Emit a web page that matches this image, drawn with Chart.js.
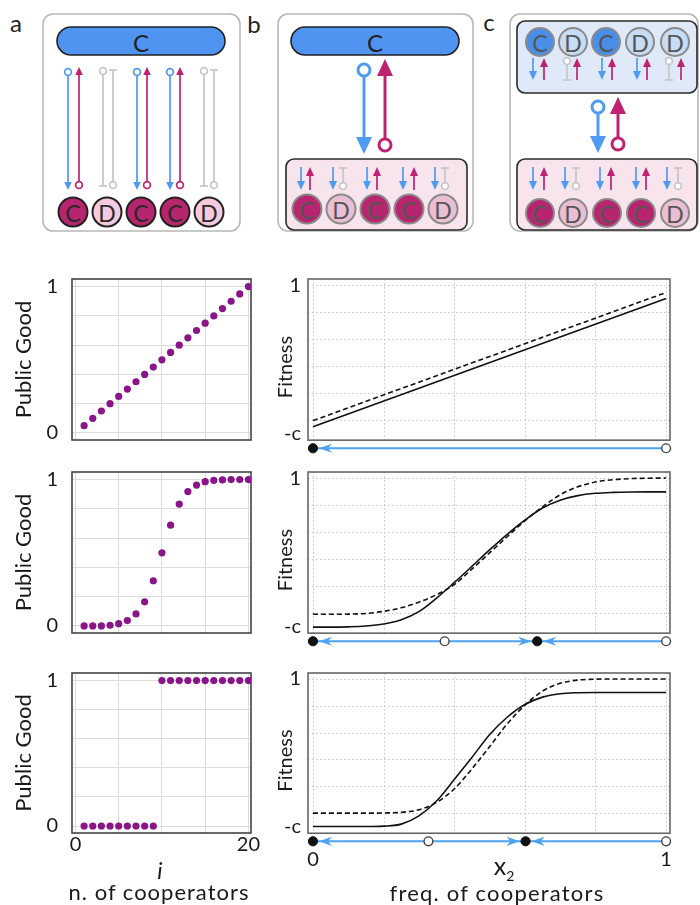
<!DOCTYPE html>
<html><head><meta charset="utf-8">
<script src="https://cdn.jsdelivr.net/npm/chart.js@4.4.1/dist/chart.umd.min.js"></script>
<style>
html,body{margin:0;padding:0;background:#fff}
#wrap{position:relative;width:700px;height:905px;overflow:hidden;font-family:Lato,'DejaVu Sans',sans-serif;color:#1a1a1a}
canvas{position:absolute}
.t{position:absolute;white-space:nowrap;transform:translate(-50%,-50%);line-height:1}
</style></head><body><div id="wrap">
<svg id="diag" width="700" height="250" style="position:absolute;left:0;top:0"></svg>
<canvas id="L1" width="262" height="221" style="left:0;top:249px"></canvas>
<canvas id="L2" width="262" height="221" style="left:0;top:442px"></canvas>
<canvas id="L3" width="262" height="220" style="left:0;top:643px"></canvas>
<canvas id="R1" width="438" height="236" style="left:262px;top:249px"></canvas>
<canvas id="R2" width="438" height="236" style="left:262px;top:442px"></canvas>
<canvas id="R3" width="438" height="235" style="left:262px;top:643px"></canvas>
<div class="t" style="left:160px;top:870px;font-style:italic;font-size:23px">i</div>
<div class="t" style="left:159px;top:892px;font-size:22px;letter-spacing:1px">n. of cooperators</div>
<div class="t" style="left:504px;top:868px;font-size:25px">x<sub style="font-size:14px">2</sub></div>
<div class="t" style="left:497px;top:893px;font-size:22px;letter-spacing:1.2px">freq. of cooperators</div>
</div>
<script>
// ---------------- data ----------------
const cooperators = [1,2,3,4,5,6,7,8,9,10,11,12,13,14,15,16,17,18,19,20];
const publicGoodLinear  = [0.05,0.10,0.15,0.20,0.25,0.30,0.35,0.40,0.45,0.50,0.55,0.60,0.65,0.70,0.75,0.80,0.85,0.90,0.95,1.00];
const publicGoodSigmoid = [0.00,0.00,0.00,0.005,0.016,0.037,0.082,0.165,0.309,0.50,0.689,0.833,0.918,0.963,0.986,0.995,0.998,1.00,1.00,1.00];
const publicGoodStep    = [0,0,0,0,0,0,0,0,0,1,1,1,1,1,1,1,1,1,1,1];
const leftXTicks = [0,5,10,15,20];
const leftYTicks = [0,0.2,0.4,0.6,0.8,1];

const freqLinear = [0, 1];
const fitnessCoopLinear = [-0.05, 0.90];
const fitnessDefLinear  = [-0.005, 0.945];
const freq = [0,0.05,0.10,0.15,0.20,0.25,0.30,0.35,0.40,0.45,0.50,0.55,0.60,0.65,0.70,0.75,0.80,0.85,0.90,0.95,1.00];
const fitnessCoopSigmoid = [-0.105,-0.105,-0.103,-0.097,-0.082,-0.050,0.010,0.110,0.225,0.345,0.467,0.583,0.688,0.778,0.836,0.870,0.887,0.894,0.897,0.898,0.898];
const fitnessDefSigmoid  = [-0.010,-0.010,-0.009,-0.004,0.012,0.038,0.080,0.135,0.210,0.325,0.445,0.565,0.683,0.786,0.876,0.935,0.971,0.988,0.996,0.999,1.000];
const fitnessCoopStep = [-0.100,-0.100,-0.100,-0.100,-0.097,-0.082,-0.020,0.090,0.250,0.415,0.585,0.715,0.810,0.865,0.890,0.898,0.900,0.900,0.900,0.900,0.900];
const fitnessDefStep  = [0,0,0,0,0.001,0.006,0.025,0.080,0.180,0.330,0.495,0.665,0.805,0.910,0.968,0.992,0.999,1,1,1,1];
const rightXTicks = [0,0.2,0.4,0.6,0.8,1];
const rightYTicks = [-0.1,0,0.2,0.4,0.6,0.8,1];

const flowEnds = [0, 1];
const stable1 = [0],        unstable1 = [1];
const stable2 = [0, 0.635], unstable2 = [0.373, 1];
const stable3 = [0, 0.602], unstable3 = [0.327, 1];
const tips1 = [0],               dirs1 = [-1];
const tips2 = [0, 0.635, 0.635], dirs2 = [-1, 1, -1];
const tips3 = [0, 0.602, 0.602], dirs3 = [-1, 1, -1];
const flowRowY = -0.21;
const fitnessBoxMin = -0.15;

// ---------------- diagram (SVG) ----------------
const NS = 'http://www.w3.org/2000/svg';
const svg = document.getElementById('diag');
function mk(tag, a, txt){ const e=document.createElementNS(NS,tag); for(const k in a) e.setAttribute(k,a[k]); if(txt!=null) e.textContent=txt; svg.appendChild(e); return e; }
const BLUE='#4f9af2', MAG='#bf2270', GREY='#c6c6c6';
const thin={r:3.4,hl:8,hw:3.8,bw:4}, big={r:6,hl:17,hw:8,bw:6};
function link(x,y1,y2,color,w,c1,c2,S){
  const ends=[[y1,c1,Math.sign(y1-y2)],[y2,c2,Math.sign(y2-y1)]];
  const le=ends.map(([y,c,o])=> c==='head'? y-o*S.hl*0.8 : c==='circle'? y-o*S.r : y);
  mk('line',{x1:x,y1:le[0],x2:x,y2:le[1],stroke:color,'stroke-width':w});
  ends.forEach(([y,c,o])=>{
    if(c==='head') mk('polygon',{points:`${x},${y} ${x-S.hw},${y-o*S.hl} ${x+S.hw},${y-o*S.hl}`,fill:color});
    else if(c==='circle') mk('circle',{cx:x,cy:y,r:S.r,fill:'#fff',stroke:color,'stroke-width':w});
    else if(c==='bar') mk('line',{x1:x-S.bw,y1:y,x2:x+S.bw,y2:y,stroke:color,'stroke-width':w});
  });
}
function disc(cx,cy,r,fill,stroke,letter,tcol){
  mk('circle',{cx,cy,r,fill,stroke,'stroke-width':2});
  mk('text',{x:cx,y:cy+1,'text-anchor':'middle','dominant-baseline':'central','font-family':'Lato','font-size':23,fill:tcol},letter);
}
function label(x,y,t){ mk('text',{x,y,'text-anchor':'middle','dominant-baseline':'central','font-family':'Lato','font-size':24,fill:'#222'},t); }
// outer boxes
mk('rect',{x:43,y:14,width:197,height:217,rx:10,fill:'#fff',stroke:'#b8b8b8','stroke-width':1.6});
mk('rect',{x:278,y:14,width:195,height:217,rx:10,fill:'#fff',stroke:'#b8b8b8','stroke-width':1.6});
mk('rect',{x:510,y:14,width:188,height:217,rx:10,fill:'#fff',stroke:'#b8b8b8','stroke-width':1.6});
label(16,22,'a'); label(254,23,'b'); label(489,21,'c');
// panel a
mk('rect',{x:57,y:27,width:168,height:28,rx:14,fill:'#4f94f0',stroke:'#222','stroke-width':1.6});
mk('text',{x:141,y:42,'text-anchor':'middle','dominant-baseline':'central','font-family':'Lato','font-size':24,fill:'#222'},'C');
const aCols=[[68,79],[103,113],[137,147],[170,180],[204,214]], aType=['C','D','C','C','D'];
aCols.forEach(([x1,x2],i)=>{
  if(aType[i]==='C'){ link(x1,72,190,BLUE,1.7,'circle','head',thin); link(x2,67,185,MAG,1.7,'head','circle',thin); }
  else { link(x1,71,186,GREY,1.7,'circle','bar',thin); link(x2,70,185,GREY,1.7,'bar','circle',thin); }
});
[73,107,141,175,209].forEach((cx,i)=> disc(cx,212,14.5, aType[i]==='C'?'#b8256f':'#f3cade','#222',aType[i],'#2a2a2a'));
// panel b
mk('rect',{x:291,y:27,width:168,height:28,rx:14,fill:'#4f94f0',stroke:'#222','stroke-width':1.6});
mk('text',{x:375,y:42,'text-anchor':'middle','dominant-baseline':'central','font-family':'Lato','font-size':24,fill:'#222'},'C');
link(364,70,154,BLUE,3,'circle','head',big);
link(385,59,145,MAG,3,'head','circle',big);
mk('rect',{x:286,y:159,width:181,height:71,rx:8,fill:'#f8e4ed',stroke:'#2a2a2a','stroke-width':1.6});
const sm={r:3.4,hl:9,hw:4,bw:4};
function lowerRow(cols,types){
  cols.forEach(([x1,x2],i)=>{
    link(x1,167,190,BLUE,1.7,'none','head',sm);
    if(types[i]==='C') link(x2,167,190,MAG,1.7,'head','none',sm);
    else link(x2,168,186,GREY,1.7,'bar','circle',sm);
  });
}
lowerRow([[301,310],[333,343],[367,377],[403,414],[435,445]],aType);
[307,341,375,409,443].forEach((cx,i)=> disc(cx,209,14.5, aType[i]==='C'?'#b8256f':'#eabfd4','#8a8a8a',aType[i],'#555'));
// panel c
mk('rect',{x:517,y:21,width:180,height:72,rx:8,fill:'#dfe9f8',stroke:'#2a2a2a','stroke-width':1.6});
const cTop=['C','D','C','D','D'], cTopArrow=['B','G','B','B','G'];
[540,573,606,640,675].forEach((cx,i)=> disc(cx,42,14, cTop[i]==='C'?'#4a8fe7':'#c7dcf5','#8a8a8a',cTop[i],'#555'));
[[533,544],[567,577],[602,612],[637,647],[669,681]].forEach(([x1,x2],i)=>{
  if(cTopArrow[i]==='B') link(x1,58,80,BLUE,1.7,'none','head',sm);
  else link(x1,61,80,GREY,1.7,'circle','bar',sm);
  link(x2,58,80,MAG,1.7,'head','none',sm);
});
link(598,107,153,BLUE,3,'circle','head',big);
link(618,97,144,MAG,3,'head','circle',big);
mk('rect',{x:517,y:159,width:180,height:71,rx:8,fill:'#f8e4ed',stroke:'#2a2a2a','stroke-width':1.6});
lowerRow([[533,544],[565,576],[600,611],[636,646],[667,678]],aType);
[540,573,607,641,675].forEach((cx,i)=> disc(cx,213,14, aType[i]==='C'?'#b8256f':'#eabfd4','#8a8a8a',aType[i],'#555'));

// ---------------- charts ----------------
const deco = {
  id:'deco',
  beforeDatasetsDraw(chart,args,opts){
    const {ctx,chartArea:a,scales:{x,y}}=chart;
    const bottom = opts.boxMin!=null ? y.getPixelForValue(opts.boxMin) : a.bottom;
    ctx.save();
    if(opts.dots){
      ctx.strokeStyle='#c4c4c4'; ctx.lineWidth=1; ctx.setLineDash([1.5,2.5]);
      x.ticks.forEach(t=>{ const px=Math.round(x.getPixelForValue(t.value))+0.5; ctx.beginPath(); ctx.moveTo(px,a.top); ctx.lineTo(px,bottom); ctx.stroke(); });
      y.ticks.forEach(t=>{ if(t.value<0) return; const py=Math.round(y.getPixelForValue(t.value))+0.5; ctx.beginPath(); ctx.moveTo(a.left,py); ctx.lineTo(a.right,py); ctx.stroke(); });
      ctx.setLineDash([]);
    }
    ctx.strokeStyle=opts.frame||'#555'; ctx.lineWidth=1.6;
    ctx.strokeRect(a.left,a.top,a.right-a.left,bottom-a.top);
    ctx.restore();
  },
  afterDatasetsDraw(chart,args,opts){
    if(!opts.tips) return;
    const {ctx,scales:{x,y}}=chart;
    const py=y.getPixelForValue(opts.flowY);
    ctx.save(); ctx.fillStyle='#4ea2f2';
    opts.tips.forEach((t,i)=>{
      const d=opts.dirs[i];
      const tip=x.getPixelForValue(t)-d*6, base=tip-d*13, notch=tip-d*9;
      ctx.beginPath(); ctx.moveTo(tip,py); ctx.lineTo(base,py-4.6); ctx.lineTo(notch,py); ctx.lineTo(base,py+4.6); ctx.closePath(); ctx.fill();
    });
    ctx.restore();
  }
};
const tickFont={family:'Lato',size:20};

function makeLeft(id,values,showX){
  return new Chart(document.getElementById(id),{
    type:'scatter',
    data:{datasets:[{data:cooperators.map((c,i)=>({x:c,y:values[i]})),pointRadius:3.6,pointHoverRadius:3.6,pointBackgroundColor:'#8a1589',pointBorderWidth:0}]},
    options:{
      responsive:false,animation:false,devicePixelRatio:1,events:[],
      layout:{padding:{left:0,right:11,top:30,bottom:showX?0:30}},
      plugins:{legend:{display:false},tooltip:{enabled:false},deco:{frame:'#444'}},
      scales:{
        x:{type:'linear',min:-0.4,max:20.3,
          afterBuildTicks:s=>{s.ticks=leftXTicks.map(v=>({value:v}));},
          afterFit:s=>{s.height=showX?30:0;},
          grid:{color:'#dcdcdc',lineWidth:1,drawTicks:false},border:{display:false},
          ticks:{display:showX,autoSkip:false,maxRotation:0,padding:0,font:tickFont,color:'#1a1a1a',callback:v=>(v===0||v===20)?String(v):''}},
        y:{type:'linear',min:-0.048,max:1.052,
          afterBuildTicks:s=>{s.ticks=leftYTicks.map(v=>({value:v}));},
          afterFit:s=>{s.width=72;},
          grid:{color:'#dcdcdc',lineWidth:1,drawTicks:false},border:{display:false},
          ticks:{autoSkip:false,padding:14,font:tickFont,color:'#1a1a1a',callback:v=>v===1?'1':v===0?'0':''},
          title:{display:true,text:'Public Good',font:{family:'Lato',size:22},color:'#1a1a1a',padding:{top:11,bottom:0}}}
      }
    },
    plugins:[deco]
  });
}
function makeRight(id,xs,coop,def,stable,unstable,tips,dirs,showX){
  return new Chart(document.getElementById(id),{
    type:'scatter',
    data:{datasets:[
      {data:stable.map(x=>({x,y:flowRowY})),pointRadius:4.6,pointHoverRadius:4.6,pointBackgroundColor:'#111',pointBorderColor:'#111',pointBorderWidth:1,clip:false,order:0},
      {data:unstable.map(x=>({x,y:flowRowY})),pointRadius:4.4,pointHoverRadius:4.4,pointBackgroundColor:'#fff',pointBorderColor:'#444',pointBorderWidth:1.4,clip:false,order:0},
      {data:xs.map((x,i)=>({x,y:coop[i]})),showLine:true,borderColor:'#111',borderWidth:1.6,pointRadius:0,cubicInterpolationMode:'monotone',order:1},
      {data:xs.map((x,i)=>({x,y:def[i]})),showLine:true,borderColor:'#111',borderWidth:1.6,borderDash:[5,3],pointRadius:0,cubicInterpolationMode:'monotone',order:1},
      {data:flowEnds.map(x=>({x,y:flowRowY})),showLine:true,borderColor:'#4ea2f2',borderWidth:2,pointRadius:0,clip:false,order:2}
    ]},
    options:{
      responsive:false,animation:false,devicePixelRatio:1,events:[],
      layout:{padding:{left:0,right:30,top:30,bottom:showX?0:30}},
      plugins:{legend:{display:false},tooltip:{enabled:false},deco:{frame:'#666',dots:true,tips,dirs,flowY:flowRowY,boxMin:fitnessBoxMin}},
      scales:{
        x:{type:'linear',min:-0.014,max:1.011,
          afterBuildTicks:s=>{s.ticks=rightXTicks.map(v=>({value:v}));},
          afterFit:s=>{s.height=showX?30:0;},
          grid:{display:false,drawTicks:false},border:{display:false},
          ticks:{display:showX,autoSkip:false,maxRotation:0,padding:0,font:tickFont,color:'#1a1a1a',callback:v=>v===0?'0':v===1?'1':''}},
        y:{type:'linear',min:-0.26,max:1.045,
          afterBuildTicks:s=>{s.ticks=rightYTicks.map(v=>({value:v}));},
          afterFit:s=>{s.width=46;},
          grid:{display:false,drawTicks:false},border:{display:false},
          ticks:{autoSkip:false,padding:7,font:tickFont,color:'#1a1a1a',callback:v=>v===1?'1':v===-0.1?'-c':''},
          title:{display:true,text:'Fitness',font:{family:'Lato',size:20},color:'#1a1a1a',padding:{top:12,bottom:0}}}
      }
    },
    plugins:[deco]
  });
}
makeLeft('L1',publicGoodLinear,false);
makeLeft('L2',publicGoodSigmoid,false);
makeLeft('L3',publicGoodStep,true);
makeRight('R1',freqLinear,fitnessCoopLinear,fitnessDefLinear,stable1,unstable1,tips1,dirs1,false);
makeRight('R2',freq,fitnessCoopSigmoid,fitnessDefSigmoid,stable2,unstable2,tips2,dirs2,false);
makeRight('R3',freq,fitnessCoopStep,fitnessDefStep,stable3,unstable3,tips3,dirs3,true);
</script>
</body></html>
